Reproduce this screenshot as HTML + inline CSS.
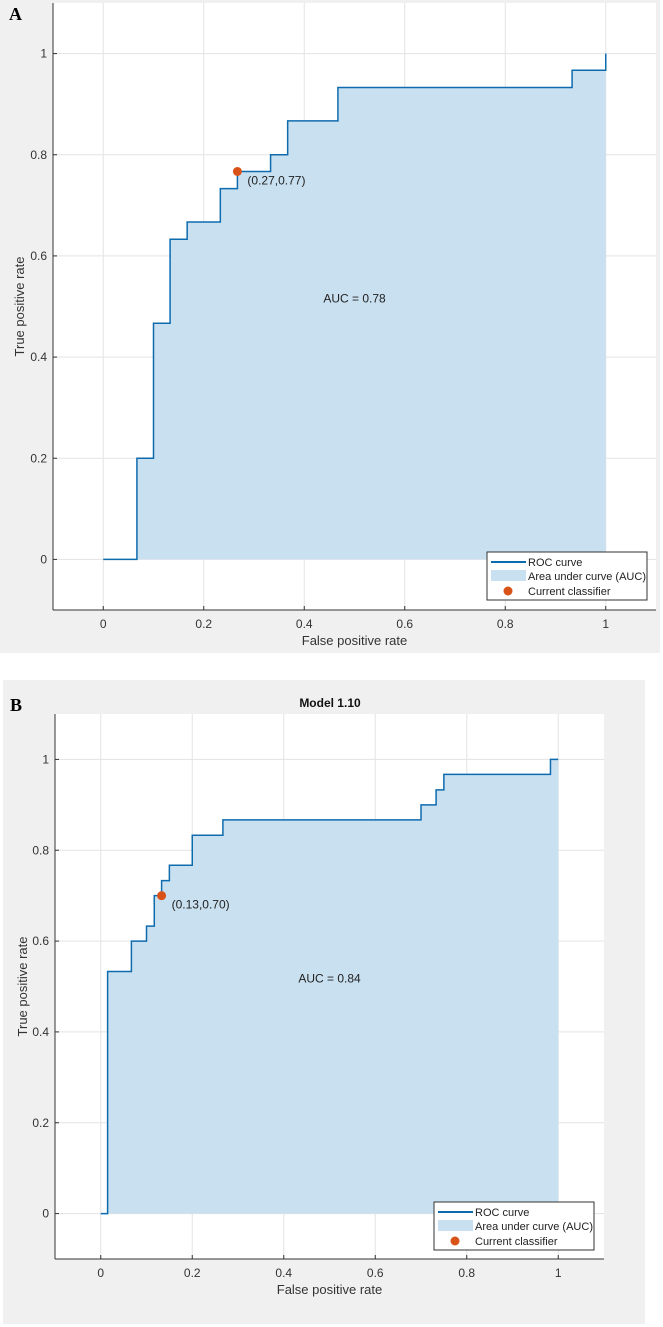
<!DOCTYPE html>
<html><head><meta charset="utf-8">
<style>
body{margin:0;background:#fff;width:663px;height:1327px;overflow:hidden;font-family:"Liberation Sans",sans-serif}
svg{position:absolute;left:0;top:0}
</style></head>
<body>
<svg id="fig" width="663" height="1327"></svg>
<script>
const xTicks=[0,0.2,0.4,0.6,0.8,1];
const yTicks=[0,0.2,0.4,0.6,0.8,1];
const tickLabels=["0","0.2","0.4","0.6","0.8","1"];
const rocA_fpr=[0,0.067,0.067,0.1,0.1,0.133,0.133,0.167,0.167,0.233,0.233,0.267,0.267,0.333,0.333,0.367,0.367,0.467,0.467,0.933,0.933,1,1];
const rocA_tpr=[0,0,0.2,0.2,0.467,0.467,0.633,0.633,0.667,0.667,0.733,0.733,0.767,0.767,0.8,0.8,0.867,0.867,0.933,0.933,0.967,0.967,1];
const rocB_fpr=[0,0.015,0.015,0.067,0.067,0.1,0.1,0.117,0.117,0.133,0.133,0.15,0.15,0.2,0.2,0.267,0.267,0.7,0.7,0.733,0.733,0.75,0.75,0.983,0.983,1];
const rocB_tpr=[0,0,0.533,0.533,0.6,0.6,0.633,0.633,0.7,0.7,0.733,0.733,0.767,0.767,0.833,0.833,0.867,0.867,0.9,0.9,0.933,0.933,0.967,0.967,1,1];
const opA=[0.267,0.767], opB=[0.133,0.70];
const aucA="AUC = 0.78", aucB="AUC = 0.84";

const NS="http://www.w3.org/2000/svg";
const svg=document.getElementById('fig');
function mk(tag,attrs,parent,text){const e=document.createElementNS(NS,tag);for(const k in attrs)e.setAttribute(k,attrs[k]);if(text!==undefined)e.textContent=text;(parent||svg).appendChild(e);return e;}

function panel(p){
  const g=mk('g',{});
  
  
  const bg=mk('rect',{x:p.bg[0],y:p.bg[1],width:p.bg[2],height:p.bg[3],fill:'#f0f0f0'},g);
  
  
  const pa=mk('rect',{x:p.L,y:p.T,width:p.R-p.L,height:p.B-p.T,fill:'#fff'},g);
  
  
  const sx=v=>p.L+(v+0.1)/1.2*(p.R-p.L);
  const sy=v=>p.B-(v+0.1)/1.2*(p.B-p.T);
  xTicks.forEach(t=>{const l=mk('line',{x1:sx(t),x2:sx(t),y1:p.T,y2:p.B,stroke:'#e3e3e3','stroke-width':1},g);});
  yTicks.forEach(t=>{const l=mk('line',{x1:p.L,x2:p.R,y1:sy(t),y2:sy(t),stroke:'#e3e3e3','stroke-width':1},g);});
  let d='M'+sx(p.fpr[0])+','+sy(0);
  p.fpr.forEach((f,i)=>{d+=' L'+sx(f)+','+sy(p.tpr[i]);});
  d+=' L'+sx(p.fpr[p.fpr.length-1])+','+sy(0)+' Z';
  const area=mk('path',{d:d,fill:'#c9e0f0'},g);
  
  
  const pts=p.fpr.map((f,i)=>sx(f)+','+sy(p.tpr[i])).join(' ');
  const line=mk('polyline',{points:pts,fill:'none',stroke:'#0e6bae','stroke-width':1.5},g);
  
  
  const pt=mk('circle',{cx:sx(p.op[0]),cy:sy(p.op[1]),r:4.5,fill:'#d95319'},g);
  
  
  const pl=mk('text',{x:sx(p.op[0])+10,y:sy(p.op[1])+13,'font-size':12,fill:'#222'},g,'');
  pl.textContent='('+(Math.round(p.op[0]*100)/100).toFixed(2)+','+(Math.round(p.op[1]*100)/100).toFixed(2)+')';
  
  
  const au=mk('text',{x:sx(0.5),y:sy(0.5)-4,'font-size':12,fill:'#222','text-anchor':'middle'},g,p.auc);
  
  
  const ax=mk('line',{x1:p.L,x2:p.R,y1:p.B,y2:p.B,stroke:'#333'},g);
  
  const ay=mk('line',{x1:p.L,x2:p.L,y1:p.T,y2:p.B,stroke:'#333'},g);
  
  xTicks.forEach((t,i)=>{
    mk('line',{x1:sx(t),x2:sx(t),y1:p.B,y2:p.B-4,stroke:'#333'},g);
    const tl=mk('text',{x:sx(t),y:p.B+18,'font-size':12,fill:'#333','text-anchor':'middle'},g,tickLabels[i]);
    
  });
  yTicks.forEach((t,i)=>{
    mk('line',{x1:p.L,x2:p.L+4,y1:sy(t),y2:sy(t),stroke:'#333'},g);
    const tl=mk('text',{x:p.L-6,y:sy(t)+4,'font-size':12,fill:'#333','text-anchor':'end'},g,tickLabels[i]);
    
  });
  const xt=mk('text',{x:(sx(0)+sx(1))/2,y:p.B+35,'font-size':13,fill:'#333','text-anchor':'middle'},g,'False positive rate');
  
  const yc=(sy(0)+sy(1))/2;
  const yt=mk('text',{x:p.yTitleX,y:yc,'font-size':13,fill:'#333','text-anchor':'middle',transform:'rotate(-90 '+p.yTitleX+' '+yc+')'},g,'True positive rate');
  
  const pl2=mk('text',{x:p.letter[0],y:p.letter[1],'font-size':18,'font-weight':'bold','font-family':'Liberation Serif,serif',fill:'#000'},g,p.id==='panel-a'?'A':'B');
  
  if(p.title){const tt=mk('text',{x:p.title[0],y:p.title[1],'font-size':12,'font-weight':'bold',fill:'#111','text-anchor':'middle'},g,'Model 1.10');}
  const [lx,ly,lw,lh]=p.leg;
  const lg=mk('g',{},g);
  
  mk('rect',{x:lx,y:ly,width:lw,height:lh,fill:'#fff',stroke:'#333'},lg);
  mk('line',{x1:lx+4,x2:lx+39,y1:ly+10,y2:ly+10,stroke:'#0e6bae','stroke-width':2},lg);
  mk('rect',{x:lx+4,y:ly+18,width:35,height:11,fill:'#c9e0f0'},lg);
  mk('circle',{cx:lx+21,cy:ly+39,r:4.5,fill:'#d95319'},lg);
  [['ROC curve',14],['Area under curve (AUC)',28],['Current classifier',43]].forEach(a=>{
    const e=mk('text',{x:lx+41,y:ly+a[1],'font-size':11,fill:'#222'},lg,a[0]);
    
  });
}
panel({id:'panel-a',bg:[0,0,660,653],L:53,R:656,T:3,B:610,fpr:rocA_fpr,tpr:rocA_tpr,op:opA,auc:aucA,yTitleX:24,letter:[9,20],leg:[487,552,160,48]});
panel({id:'panel-b',bg:[3,680,642,644],L:55,R:604,T:714,B:1259,fpr:rocB_fpr,tpr:rocB_tpr,op:opB,auc:aucB,yTitleX:27,letter:[10,711],title:[330,707],leg:[434,1202,160,48]});
</script>
</body></html>
